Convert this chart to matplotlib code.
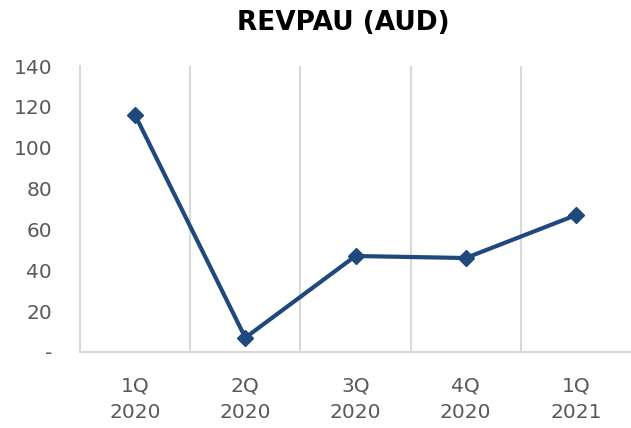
import matplotlib.pyplot as plt
import matplotlib.ticker as mticker

# Data
quarters = ["1Q\n2020", "2Q\n2020", "3Q\n2020", "4Q\n2020", "1Q\n2021"]
revpau = [116, 7, 47, 46, 67]

line_color = "#1F497D"
grid_color = "#D9D9D9"
text_color = "#595959"

plt.rcParams['font.family'] = ['DejaVu Sans']

fig = plt.figure(figsize=(6.31, 4.28), dpi=100)
ax = fig.add_axes([80 / 631, 1 - 352 / 428, 551 / 631, 286 / 428])

x = list(range(len(quarters)))
ax.plot(x, revpau, color=line_color, linewidth=3, marker='D', markersize=8,
        solid_joinstyle='miter')

ax.set_xlim(-0.5, len(quarters) - 0.5)
ax.set_ylim(0, 140)
ax.set_yticks(range(0, 141, 20))
ax.yaxis.set_major_formatter(mticker.FuncFormatter(lambda v, p: "-" if v == 0 else f"{int(v)}"))
ax.set_xticks(x)
ax.set_xticklabels(quarters, linespacing=1.5)

# vertical separators between categories
for b in [i + 0.5 for i in x[:-1]]:
    ax.axvline(b, color=grid_color, linewidth=1.5, zorder=0)

for side in ["top", "right"]:
    ax.spines[side].set_visible(False)
for side in ["left", "bottom"]:
    ax.spines[side].set_color(grid_color)
    ax.spines[side].set_linewidth(1.5)

ax.tick_params(axis='both', length=0, labelsize=14.5, labelcolor=text_color)
ax.tick_params(axis='x', pad=18)
ax.tick_params(axis='y', pad=20)

fig.suptitle("REVPAU (AUD)", x=343 / 631, y=1 - 23 / 428, va='center',
             fontsize=19, fontweight='bold', color='black')

fig.savefig("out.png", dpi=100)
